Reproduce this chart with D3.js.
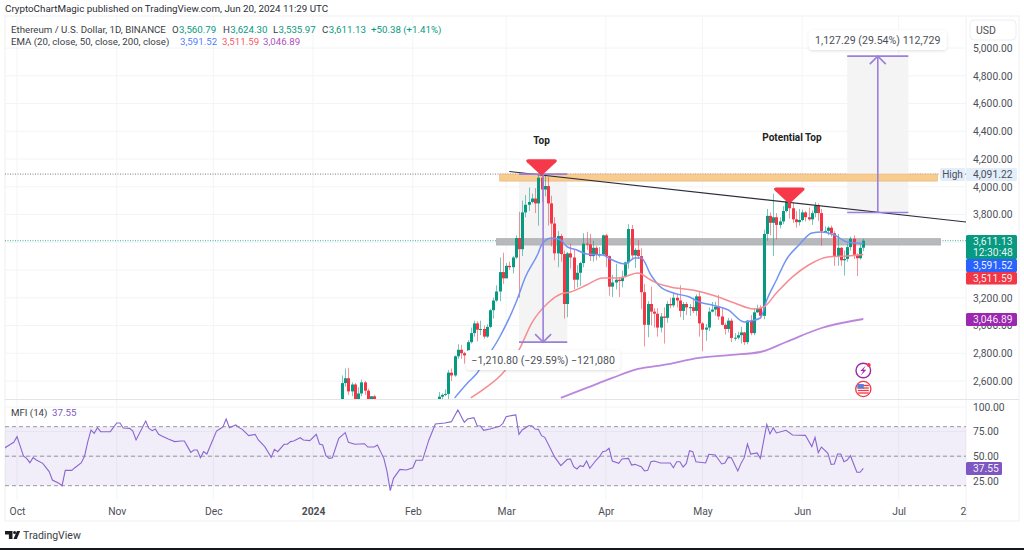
<!DOCTYPE html>
<html><head><meta charset="utf-8">
<script src="https://cdn.jsdelivr.net/npm/d3@7"></script>
<style>
html,body{margin:0;padding:0;background:#fff;overflow:hidden}
text{font-family:Roboto,Inter,sans-serif}
.axis text{font-family:Roboto,sans-serif;font-size:10.3px;fill:#4d4f57}
.axis path,.axis line{display:none}
</style></head><body><svg id="c" width="1024" height="550"></svg>
<script>
// [day of month, open, high, low, close]
const janCandles=[[10,2345,2640,2340,2585],[11,2585,2690,2560,2620],[12,2620,2695,2500,2525],[13,2525,2590,2490,2575],[14,2575,2585,2460,2470],[15,2470,2555,2465,2510],[16,2510,2610,2490,2590],[17,2590,2600,2500,2530],[18,2530,2545,2420,2470],[19,2470,2490,2430,2490],[20,2490,2500,2460,2470]];
const febCandles=[[9,2425,2520,2420,2487],[10,2487,2510,2470,2500],[11,2500,2540,2490,2507],[12,2507,2680,2470,2660],[13,2660,2690,2600,2640],[14,2640,2785,2630,2778],[15,2778,2865,2760,2825],[16,2825,2860,2760,2800],[17,2800,2810,2725,2785],[18,2785,2895,2755,2880],[19,2880,2985,2870,2945],[20,2945,3035,2920,3015],[21,3015,3030,2885,2970],[22,2970,3035,2930,2975],[23,2975,3000,2905,2920],[24,2920,3010,2910,2990],[25,2990,3120,2980,3110],[26,3110,3200,3050,3180],[27,3180,3290,3170,3245],[28,3245,3490,3175,3385],[29,3385,3525,3300,3340]];
const marCandles=[[1,3340,3450,3340,3430],[2,3430,3460,3400,3420],[3,3420,3500,3375,3490],[4,3490,3650,3480,3630],[5,3630,3820,3200,3550],[6,3550,3900,3500,3815],[7,3815,3940,3780,3870],[8,3870,3995,3825,3890],[9,3890,3950,3880,3915],[10,3915,3990,3810,3880],[11,3880,4085,3720,4065],[12,4065,4091,3890,3980],[13,3980,4085,3930,4005],[14,4005,4070,3720,3880],[15,3880,3935,3570,3735],[16,3735,3780,3470,3520],[17,3520,3680,3420,3645],[18,3645,3660,3460,3515],[19,3515,3540,3050,3155],[20,3155,3530,3060,3520],[21,3520,3590,3410,3490],[22,3490,3545,3260,3330],[23,3330,3435,3275,3380],[24,3380,3460,3285,3450],[25,3450,3665,3420,3590],[26,3590,3675,3545,3585],[27,3585,3660,3465,3500],[28,3500,3610,3460,3560],[29,3560,3575,3470,3510],[30,3510,3565,3490,3512],[31,3512,3655,3505,3650]];
const aprCandles=[[1,3650,3660,3420,3500],[2,3500,3505,3215,3280],[3,3280,3365,3205,3310],[4,3310,3445,3260,3330],[5,3330,3345,3205,3320],[6,3320,3395,3275,3350],[7,3350,3460,3345,3455],[8,3455,3730,3410,3695],[9,3695,3725,3480,3505],[10,3505,3560,3415,3545],[11,3545,3615,3480,3500],[12,3500,3555,3120,3240],[13,3240,3300,2850,3005],[14,3005,3175,2915,3155],[15,3155,3280,3000,3100],[16,3100,3125,2985,3085],[17,3085,3125,2920,2985],[18,2985,3090,2950,3065],[19,3065,3130,2870,3055],[20,3055,3175,3020,3155],[21,3155,3200,3125,3145],[22,3145,3240,3130,3200],[23,3200,3225,3130,3180],[24,3180,3290,3060,3105],[25,3105,3170,3040,3155],[26,3155,3170,3075,3130],[27,3130,3155,3070,3132],[28,3132,3200,3090,3105],[29,3105,3225,3070,3210],[30,3210,3250,2920,3015]];
const mayCandles=[[1,3015,3025,2815,2970],[2,2970,3010,2890,2985],[3,2985,3130,2960,3100],[4,3100,3170,3095,3115],[5,3115,3170,3070,3135],[6,3135,3220,3040,3065],[7,3065,3125,3000,3005],[8,3005,3020,2935,2975],[9,2975,3055,2950,3035],[10,3035,3050,2880,2910],[11,2910,2945,2890,2912],[12,2912,2955,2900,2930],[13,2930,2990,2870,2950],[14,2950,2955,2860,2880],[15,2880,3040,2865,3035],[16,3035,3075,2930,2945],[17,2945,3125,2930,3095],[18,3095,3150,3090,3125],[19,3125,3145,3050,3070],[20,3070,3690,3045,3660],[21,3660,3840,3610,3790],[22,3790,3815,3650,3740],[23,3740,3950,3500,3780],[24,3780,3810,3620,3725],[25,3725,3780,3700,3750],[26,3750,3860,3730,3825],[27,3825,3975,3815,3895],[28,3895,3930,3770,3845],[29,3845,3885,3740,3765],[30,3765,3825,3705,3745],[31,3745,3840,3720,3760]];
const junCandles=[[1,3760,3835,3750,3815],[2,3815,3825,3750,3780],[3,3780,3850,3755,3765],[4,3765,3830,3725,3810],[5,3810,3890,3780,3865],[6,3865,3880,3755,3810],[7,3810,3840,3575,3680],[8,3680,3715,3670,3682],[9,3682,3715,3650,3705],[10,3705,3720,3640,3665],[11,3665,3680,3430,3495],[12,3495,3660,3430,3560],[13,3560,3565,3430,3470],[14,3470,3540,3360,3480],[15,3480,3590,3460,3565],[16,3565,3640,3540,3625],[17,3625,3650,3480,3510],[18,3510,3520,3355,3485],[19,3485,3585,3475,3560],[20,3560.79,3624.30,3535.97,3611.13]];

const ema20Dates=["2024-02-14","2024-02-18","2024-02-21","2024-02-24","2024-02-28","2024-03-04","2024-03-07","2024-03-11","2024-03-12","2024-03-15","2024-03-18","2024-03-20","2024-03-23","2024-03-26","2024-03-31","2024-04-03","2024-04-07","2024-04-10","2024-04-12","2024-04-15","2024-04-18","2024-04-22","2024-04-27","2024-04-30","2024-05-04","2024-05-09","2024-05-14","2024-05-16","2024-05-19","2024-05-21","2024-05-24","2024-05-27","2024-05-31","2024-06-04","2024-06-07","2024-06-11","2024-06-15","2024-06-20"];
const ema20Values=[2478,2586,2658,2766,2917,3162,3350,3523,3580,3631,3616,3566,3544,3515,3508,3472,3443,3487,3487,3364,3277,3234,3205,3169,3148,3112,3025,3033,3054,3184,3328,3472,3580,3667,3674,3652,3602,3591.52];
const ema50Dates=["2024-02-19","2024-02-24","2024-02-29","2024-03-05","2024-03-09","2024-03-14","2024-03-18","2024-03-21","2024-03-26","2024-03-31","2024-04-05","2024-04-11","2024-04-14","2024-04-16","2024-04-21","2024-04-28","2024-05-05","2024-05-11","2024-05-17","2024-05-20","2024-05-24","2024-05-29","2024-06-03","2024-06-09","2024-06-15","2024-06-20"];
const ema50Values=[2478,2557,2658,2824,3019,3162,3227,3241,3292,3342,3342,3378,3342,3314,3278,3256,3213,3162,3119,3133,3234,3350,3436,3494,3501,3511.59];
const ema200Dates=["2024-03-18","2024-03-26","2024-04-03","2024-04-11","2024-04-19","2024-04-30","2024-05-10","2024-05-19","2024-05-27","2024-06-07","2024-06-20"];
const ema200Values=[2478,2550,2622,2687,2716,2766,2788,2809,2881,2982,3046.89];

// days counted from 1 Oct 2023
const mfiDays=[-4,-2,-1,0,2,3,4,5,6,8,10,11,13,14,15,17,18,20,21,22,23,24,25,26,29,31,32,33,35,36,37,40,41,42,43,44,45,47,49,51,52,53,54,55,56,57,58,59,62,63,64,65,66,68,69,70,72,74,75,77,79,80,81,83,84,85,86,88,89,91,93,94,95,96,97,98,100,102,103,105,108,109,111,112,114,115,116,117,119,121,123,124,126,128,130,133,135,137,139,140,142,143,144,145,147,150,151,152,154,155,156,157,159,160,161,162,163,164,166,167,169,171,172,173,174,175,176,177,178,180,181,182,183,184,185,187,188,190,191,192,194,195,196,197,198,200,203,204,205,206,207,208,209,210,211,214,215,217,219,220,221,222,224,225,226,227,228,230,231,233,234,235,236,239,241,245,247,248,249,250,252,253,254,255,256,257,258,259,261,262,263];
const mfiValues=[58,62.1,64.1,69.9,50.2,47.8,43.4,48.5,46.1,42.7,34.3,25.8,22.4,20,35.6,35.6,38.3,43.4,50.2,64.8,76.6,73.2,79,74.9,74.9,83.7,83.7,78.7,78.3,75.6,66.5,85.8,78.3,75.9,77.6,72.2,70.5,67.5,64.8,65.4,65.4,59.7,53.9,56.3,56.3,48.5,54.6,52.2,75.6,77.6,79.7,87.8,79,81.7,79,77.3,70.9,72.2,66.5,59.7,48.8,57,54.6,62.1,62.1,64.8,65.4,68.8,66.5,65.8,72.2,62.4,61.4,50.5,47.8,48.5,68.2,73.9,64.1,62.1,62.7,59.3,59.3,61.4,47.8,34.3,15,27.5,36.6,36,38.3,45.8,45.8,66.5,82.7,83.7,85.1,97,84.4,87.8,89.2,81,80.7,76.3,77.6,80.4,83.4,90.2,91.5,91.9,72.2,76.6,81,81,77.6,77.3,70.9,69.2,56.3,49.5,40.4,46.8,47.1,39.4,37,40.4,39.4,45.1,37.7,46.1,49.5,54.6,55.3,58,45.1,42.7,47.1,47.8,41,41.7,39.4,35,35.6,44.4,45.1,43.1,43.1,38.3,44.4,44.4,39,42.7,55.6,54.6,44.4,43.1,51.9,51.2,42.1,43.1,48.8,48.5,35,42.7,48.5,62.4,52.2,53.3,47.8,82.4,72.6,79,73.6,76.3,71.5,71.2,59.7,69.2,53.6,59.3,52.9,41.7,42.1,52.2,52.2,44.4,46.1,50.5,33.6,33.6,37.55];

const priceTicks=[2600,2800,3000,3200,3400,3600,3800,4000,4200,4400,4600,4800,5000];
const priceLabelTicks=[2600,2800,3000,3200,3800,4000,4200,4400,4600,4800,5000];
const mfiTicks=[100,75,50,25];
const mfiLevels=[80,50,20];
const monthTicks=["2023-10-01","2023-11-01","2023-12-01","2024-01-01","2024-02-01","2024-03-01","2024-04-01","2024-05-01","2024-06-01","2024-07-01","2024-08-01"];
const monthLabels=["Oct","Nov","Dec","2024","Feb","Mar","Apr","May","Jun","Jul","2"];

const titleText="CryptoChartMagic published on TradingView.com, Jun 20, 2024 11:29 UTC";
const symbolText="Ethereum / U.S. Dollar, 1D, BINANCE";
const ohlcLabels=["O","H","L","C"];
const ohlcValues=["3,560.79","3,624.30","3,535.97","3,611.13"];
const changeText="+50.38 (+1.41%)";
const emaTitle="EMA (20, close, 50, close, 200, close)";
const emaLast=["3,591.52","3,511.59","3,046.89"];
const mfiTitle="MFI (14)";

const highPrice=4091.22, lastPrice=3611.13, lowTarget=2880.42, upBase=3814, upTop=4941.29;
const orangeZone=[4091,4041], greyZone=[3626,3580];
const trend=[["2024-03-02",4110],["2024-07-22",3746]];

const green="#089981",red="#f23645",blue="#2962ff",violet="#9c27b0",mfiC="#7e57c2",tool="#9b7fdc",lab="#4d4f57";
const parse=d3.utcParse("%Y-%m-%d");
const T=s=>parse(s);
const svg=d3.select("#c");
const x=d3.scaleUtc().domain([T("2023-10-01"),T("2024-07-01")]).range([17,898.7]);
const y=d3.scaleLinear().domain([2600,5000]).range([381,48]);
const m=d3.scaleLinear().domain([100,20]).range([407,485.7]);
const L=5,R=966;

const defs=svg.append("defs");
defs.append("clipPath").attr("id","pp").append("rect").attr("x",L).attr("y",17).attr("width",R-L).attr("height",382);
defs.append("clipPath").attr("id","mp").append("rect").attr("x",L).attr("y",400).attr("width",R-L).attr("height",100);
const shadow=defs.append("filter").attr("id","sh").attr("x","-10%").attr("y","-30%").attr("width","120%").attr("height","170%");
shadow.append("feDropShadow").attr("dx",0).attr("dy",1).attr("stdDeviation",1.5).attr("flood-color","#000").attr("flood-opacity",.13);

// frame
svg.append("rect").attr("x",L).attr("y",16).attr("width",1019-L).attr("height",505).attr("fill","#fff").attr("stroke","#eff0f2");
// grids
const grid=svg.append("g").attr("stroke","#f3f4f6").attr("fill","none");
priceTicks.forEach(t=>grid.append("line").attr("x1",L).attr("x2",R).attr("y1",y(t)).attr("y2",y(t)));
mfiTicks.filter(t=>t>25).forEach(t=>grid.append("line").attr("x1",L).attr("x2",R).attr("y1",m(t)).attr("y2",m(t)));
monthTicks.slice(0,10).forEach(t=>grid.append("line").attr("x1",x(T(t))).attr("x2",x(T(t))).attr("y1",17).attr("y2",500));
svg.append("line").attr("x1",R).attr("x2",R).attr("y1",17).attr("y2",521).attr("stroke","#f0f1f3");
svg.append("line").attr("x1",L).attr("x2",1019).attr("y1",399.5).attr("y2",399.5).attr("stroke","#e3e4e8");

// price pane
const pp=svg.append("g").attr("clip-path","url(#pp)");
pp.append("line").attr("x1",L).attr("x2",R).attr("y1",y(highPrice)).attr("y2",y(highPrice)).attr("stroke","#787b86").attr("stroke-dasharray","1 1.5");
pp.append("line").attr("x1",L).attr("x2",R).attr("y1",y(lastPrice)).attr("y2",y(lastPrice)).attr("stroke",green).attr("stroke-dasharray","1 1.5").attr("opacity",.8);
function measureRect(a,b,p0,p1){pp.append("rect").attr("x",x(T(a))).attr("width",x(T(b))-x(T(a))).attr("y",y(p0)).attr("height",y(p1)-y(p0)).attr("fill","#f4f4f5");}
measureRect("2024-03-05","2024-03-20",highPrice,lowTarget);
measureRect("2024-06-15","2024-07-04",upTop,upBase);
function zone(a,b,z,fill,stroke){pp.append("rect").attr("x",x(T(a))).attr("width",x(T(b))-x(T(a))).attr("y",y(z[0])).attr("height",y(z[1])-y(z[0])).attr("fill",fill).attr("stroke",stroke).attr("stroke-width",.8);}
zone("2024-02-28","2024-07-13",orangeZone,"#f8cc8f","#e8bb80");
zone("2024-02-27","2024-07-14",greyZone,"#b8b9bc","#aeafb2");

// candles
const rows=[];
[[janCandles,"2024-01"],[febCandles,"2024-02"],[marCandles,"2024-03"],[aprCandles,"2024-04"],[mayCandles,"2024-05"],[junCandles,"2024-06"]].forEach(([list,mon])=>
  list.forEach(r=>rows.push({d:T(mon+"-"+String(r[0]).padStart(2,"0")),o:r[1],h:r[2],l:r[3],c:r[4]})));
const cg=pp.append("g").selectAll("g").data(rows).join("g");
cg.append("line").attr("x1",d=>Math.round(x(d.d))+.5).attr("x2",d=>Math.round(x(d.d))+.5).attr("y1",d=>y(d.h)).attr("y2",d=>y(d.l))
  .attr("stroke",d=>d.c>=d.o?green:red).attr("stroke-opacity",.55);
cg.append("rect").attr("x",d=>Math.round(x(d.d))-1).attr("width",3).attr("y",d=>y(Math.max(d.o,d.c)))
  .attr("height",d=>Math.max(1,Math.abs(y(d.o)-y(d.c)))).attr("fill",d=>d.c>=d.o?green:red);

// EMA lines
const lineFn=d3.line().x(d=>x(d[0])).y(d=>y(d[1])).curve(d3.curveMonotoneX);
[[ema20Dates,ema20Values,"#7094f5",1.5],[ema50Dates,ema50Values,"#f58d92",1.5],[ema200Dates,ema200Values,"#bb86dc",1.8]].forEach(([ds,vs,c,w])=>
  pp.append("path").attr("d",lineFn(ds.map((s,i)=>[T(s),vs[i]]))).attr("fill","none").attr("stroke",c).attr("stroke-width",w));

// trend line
pp.append("line").attr("x1",x(T(trend[0][0]))).attr("y1",y(trend[0][1])).attr("x2",x(T(trend[1][0]))).attr("y2",y(trend[1][1])).attr("stroke","#2a2e39").attr("stroke-width",1.1);

// measurement arrows
function measure(a,b,from,to,txt,boxW,boxCy){
  const x0=x(T(a)),x1=x(T(b)),cx=(x0+x1)/2,yf=y(from),yt=y(to),dir=yt>yf?-1:1;
  const g=svg.append("g").attr("stroke",tool).attr("fill","none").attr("stroke-width",1.6);
  g.append("line").attr("x1",x0).attr("x2",x1).attr("y1",yf).attr("y2",yf);
  g.append("line").attr("x1",x0).attr("x2",x1).attr("y1",yt).attr("y2",yt);
  g.append("line").attr("x1",cx).attr("x2",cx).attr("y1",yf).attr("y2",yt);
  g.append("path").attr("d",`M${cx-8},${yt+8*dir}L${cx},${yt}L${cx+8},${yt+8*dir}`);
  svg.append("rect").attr("x",cx-boxW/2).attr("y",boxCy-10).attr("width",boxW).attr("height",20).attr("rx",4).attr("fill","#fff").attr("filter","url(#sh)");
  svg.append("text").attr("x",cx).attr("y",boxCy+3.7).attr("text-anchor","middle").attr("font-size",10.6).attr("fill",lab).text(txt);
}
measure("2024-03-05","2024-03-20",highPrice,lowTarget,"−1,210.80 (−29.59%) −121,080",154,360);
measure("2024-06-15","2024-07-04",upBase,upTop,"1,127.29 (29.54%) 112,729",138,40);

// red markers
function marker(date,p){const cx=x(T(date)),ty=y(p);
  svg.append("path").attr("d",`M${cx},${ty}L${cx-14.5},${ty-13.5}Q${cx-16.5},${ty-16} ${cx-13.5},${ty-16.5}L${cx+13.5},${ty-16.5}Q${cx+16.5},${ty-16} ${cx+14.5},${ty-13.5}Z`).attr("fill","#f5394a");}
marker("2024-03-12",4080);
marker("2024-05-28",3876);
svg.append("text").attr("x",x(T("2024-03-12"))).attr("y",144).attr("text-anchor","middle").attr("font-size",10).attr("font-weight",700).attr("fill","#222").text("Top");
svg.append("text").attr("x",792).attr("y",140.5).attr("text-anchor","middle").attr("font-size",10).attr("font-weight",700).attr("fill","#222").text("Potential Top");

// event icons
const ix=x(T("2024-06-20"));
const ic=svg.append("g");
ic.append("circle").attr("cx",ix).attr("cy",370.5).attr("r",7.3).attr("fill","#fff").attr("stroke","#9c27b0").attr("stroke-width",1.4);
ic.append("path").attr("d",`M${ix+2.5},${365.5}L${ix-3},${371}L${ix},${371}L${ix-2.5},${375.5}L${ix+3},${369.8}L${ix},${369.8}Z`).attr("fill","#9c27b0");
ic.append("circle").attr("cx",ix+5.5).attr("cy",365).attr("r",1.9).attr("fill",red);
ic.append("circle").attr("cx",ix).attr("cy",389).attr("r",7.6).attr("fill","#fff").attr("stroke",red).attr("stroke-width",1.3);
[385.5,388,390.5,393].forEach(v=>ic.append("line").attr("x1",ix-5.5).attr("x2",ix+5.5).attr("y1",v).attr("y2",v).attr("stroke",red).attr("stroke-width",1.3));
ic.append("rect").attr("x",ix-6).attr("y",384).attr("width",6.5).attr("height",4.5).attr("fill","#5b7fd6");

// MFI pane
svg.append("rect").attr("x",L).attr("width",R-L).attr("y",m(80)).attr("height",m(20)-m(80)).attr("fill",mfiC).attr("fill-opacity",.1);
mfiLevels.forEach(v=>svg.append("line").attr("x1",L).attr("x2",R).attr("y1",m(v)).attr("y2",m(v)).attr("stroke","#787b86").attr("stroke-opacity",.75).attr("stroke-dasharray","4 3"));
const mfiLine=d3.line().x(d=>x(d[0])).y(d=>m(d[1]));
const origin=T("2023-10-01");
svg.append("g").attr("clip-path","url(#mp)").append("path")
  .attr("d",mfiLine(mfiDays.map((n,i)=>[d3.utcDay.offset(origin,n),mfiValues[i]])))
  .attr("fill","none").attr("stroke","#8a66d1").attr("stroke-width",1.1);

// axes
svg.append("g").attr("class","axis").attr("transform",`translate(${R+3},0)`)
  .call(d3.axisRight(y).tickValues(priceLabelTicks).tickSize(0).tickPadding(4).tickFormat(d3.format(",.2f")));
svg.append("g").attr("class","axis").attr("transform",`translate(${R+3},0)`)
  .call(d3.axisRight(m).tickValues(mfiTicks).tickSize(0).tickPadding(4).tickFormat(d3.format(".2f")));
const xa=svg.append("g").attr("class","axis").attr("transform","translate(0,507.5)")
  .call(d3.axisBottom(x).tickValues(monthTicks.map(T)).tickSize(0).tickPadding(0).tickFormat((d,i)=>monthLabels[i]));
xa.selectAll("text").attr("dy","0.71em").style("font-weight",(d,i)=>monthLabels[i]==="2024"?700:400);
xa.selectAll("text").filter((d,i)=>i===10).attr("x",963-x(T("2024-08-01")));

// USD button
svg.append("rect").attr("x",970).attr("y",20).attr("width",46).attr("height",20).attr("rx",4).attr("fill","#fff").attr("stroke","#eceef1");
svg.append("text").attr("x",976).attr("y",33.5).attr("font-size",10.5).attr("fill",lab).text("USD");

// high label
svg.append("rect").attr("x",940).attr("y",168).attr("width",25).attr("height",13).attr("rx",1.5).attr("fill","#e3eefb");
svg.append("text").attr("x",952.5).attr("y",178).attr("text-anchor","middle").attr("font-size",10).attr("fill",lab).text("High");
svg.append("rect").attr("x",966).attr("y",168).attr("width",51).attr("height",13).attr("rx",1.5).attr("fill","#e3eefb");
svg.append("text").attr("x",973).attr("y",178).attr("font-size",10.3).attr("fill",lab).text("4,091.22");

// axis value boxes
function box(top,h,fill,lines,w){
  svg.append("rect").attr("x",R).attr("y",top).attr("width",w||51).attr("height",h).attr("rx",1.5).attr("fill",fill);
  lines.forEach((t,i)=>svg.append("text").attr("x",973).attr("y",top+9.7+i*10.8).attr("font-size",10.3).attr("fill","#fff").attr("fill-opacity",.92).text(t));
}
box(235,24,green,[ "3,611.13","12:30:48"]);
box(259,13,blue,["3,591.52"]);
box(272,12.5,red,["3,511.59"]);
box(313,13,violet,["3,046.89"]);
box(462,13,mfiC,["37.55"],36);

// legends
const head=svg.append("g").attr("font-size",9.7).attr("fill","#3a3d45");
svg.append("text").attr("x",5).attr("y",12).attr("font-size",9.8).attr("fill","#2a2c33").text(titleText);
head.append("text").attr("x",11).attr("y",32.5).text(symbolText);
const ohlcX=[172,223,273,322];
ohlcLabels.forEach((k,i)=>{
  const t=head.append("text").attr("x",ohlcX[i]).attr("y",32.5).text(k);
  t.append("tspan").attr("fill",green).attr("dx",.4).text(ohlcValues[i]);
});
head.append("text").attr("x",371).attr("y",32.5).attr("fill",green).text(changeText);
head.append("text").attr("x",11).attr("y",45).text(emaTitle);
[[180,blue],[222,red],[263,violet]].forEach(([px,c],i)=>head.append("text").attr("x",px).attr("y",45).attr("fill",c).attr("fill-opacity",.85).text(emaLast[i]));
head.append("text").attr("x",11).attr("y",415.5).text(mfiTitle);
head.append("text").attr("x",52).attr("y",415.5).attr("fill",mfiC).text("37.55");

// TradingView footer
svg.append("path").attr("d","M5,531h7.5v8h-3.6v-4.6H5ZM13.5,539l3.4,-8h3.3l-3.4,8Z").attr("fill","#1a1c20");
svg.append("circle").attr("cx",14.6).attr("cy",532.6).attr("r",1.5).attr("fill","#1a1c20");
svg.append("text").attr("x",23).attr("y",539).attr("font-size",10.5).attr("fill","#3a3d45").text("TradingView");
svg.append("rect").attr("x",0).attr("y",548).attr("width",1024).attr("height",2).attr("fill","#16181d");
</script></body></html>
